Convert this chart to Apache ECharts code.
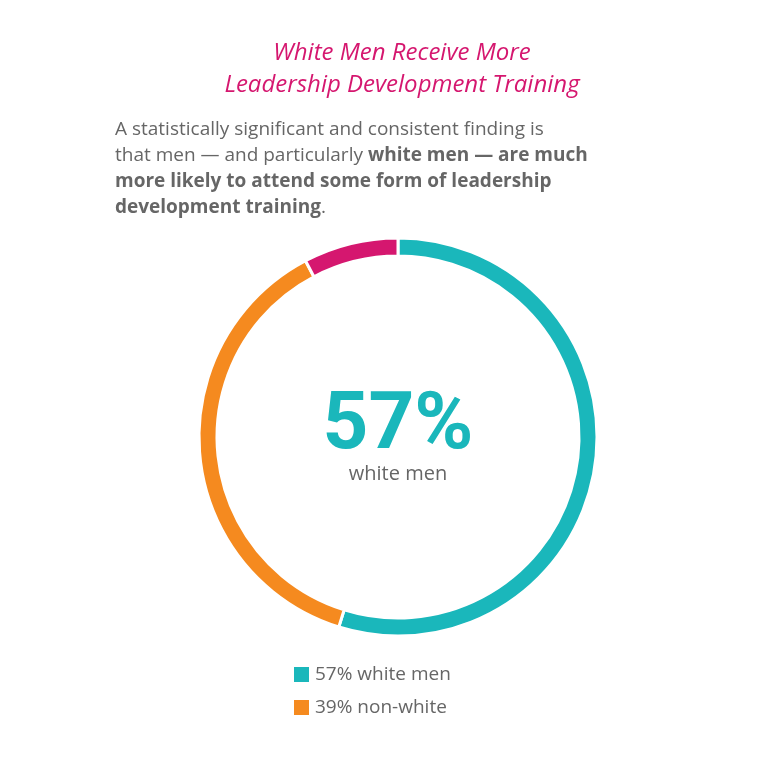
<!DOCTYPE html>
<html><head><meta charset="utf-8">
<script src="https://cdn.jsdelivr.net/npm/echarts@6/dist/echarts.min.js"></script>
<style>html,body{margin:0;padding:0;background:#fff}#c{width:763px;height:760px}</style>
</head><body><div id="c"></div>
<script>
const categories = ['57% white men', '39% non-white', 'other'];
const values = [57, 39, 8];
const colors = ['#1ab7bb', '#f58a1f', '#d5176f'];
const chart = echarts.init(document.getElementById('c'));
chart.setOption({
  animation: false,
  title: {
    text: 'White Men Receive More\nLeadership Development Training',
    left: 397, top: 32, textAlign: 'center',
    textStyle: {color: '#d5176f', fontStyle: 'italic', fontWeight: 'normal', fontSize: 24, lineHeight: 32, fontFamily: 'Open Sans'}
  },
  legend: {
    data: categories.slice(0, 2), orient: 'vertical', left: 287, top: 660, itemGap: 14,
    itemWidth: 17, itemHeight: 17, icon: 'rect',
    textStyle: {color: '#666', fontSize: 19, fontFamily: 'Open Sans'}
  },
  graphic: [
    {type: 'text', left: 115, top: 120, style: {
      text: '{n|A statistically significant and consistent finding is}\n{n|that men — and particularly }{b|white men — are much}\n{b|more likely to attend some form of leadership}\n{b|development training}{n|.}',
      rich: {n: {fontSize: 19, fill: '#666', fontFamily: 'Open Sans', lineHeight: 26},
             b: {fontSize: 19, fill: '#666', fontWeight: 'bold', fontFamily: 'Open Sans', lineHeight: 26}}
    }},
    {type: 'text', x: 398, y: 428, style: {text: values[0] + '%', fill: colors[0], fontSize: 80, fontWeight: 'bold', fontFamily: 'Roboto', align: 'center', verticalAlign: 'middle'}},
    {type: 'text', x: 398, y: 474, style: {text: 'white men', fill: '#666', fontSize: 20, fontFamily: 'Open Sans', align: 'center', verticalAlign: 'middle'}}
  ],
  series: [{
    type: 'pie', center: [398, 437], radius: [181, 199], startAngle: 90, clockwise: true,
    label: {show: false}, labelLine: {show: false}, emphasis: {disabled: true},
    itemStyle: {borderColor: '#fff', borderWidth: 3},
    data: categories.map((c, i) => ({name: c, value: values[i], itemStyle: {color: colors[i]}}))
  }]
});
</script></body></html>
